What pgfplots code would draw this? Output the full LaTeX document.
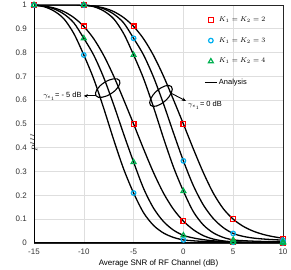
\documentclass[border=0pt]{standalone}
\usepackage{pgfplots}
\pgfplotsset{compat=1.18}
\usepackage{pgfplotstable}
\usepackage{fontspec}
\setmainfont{Liberation Sans}
\usetikzlibrary{shapes.geometric,arrows.meta}

\definecolor{mred}{RGB}{255,0,0}
\definecolor{mblue}{RGB}{0,176,240}
\definecolor{mgreen}{RGB}{0,176,80}
\definecolor{gridc}{RGB}{222,222,222}

% right group (gamma = 0 dB)
\pgfplotstableread{
x y
-15 1
-11 0.9997
-10 0.9986
-9 0.9953
-8 0.9876
-7 0.9725
-6 0.9472
-5 0.91
-4 0.858
-3 0.788
-2 0.7012
-1 0.6023
0 0.50
1 0.3953
2 0.296
3 0.2097
4 0.1445
5 0.100
6 0.0702
7 0.0500
8 0.0362
9 0.0267
10 0.0200
}\RR
\pgfplotstableread{
x y
-10 1
-9 0.995
-8 0.984
-7 0.962
-6 0.925
-5 0.86
-4 0.790
-3 0.697
-2 0.585
-1 0.463
0 0.345
1 0.241
2 0.160
3 0.103
4 0.0647
5 0.040
6 0.0279
7 0.0208
8 0.0168
9 0.0141
10 0.012
}\RB
\pgfplotstableread{
x y
-10 1
-9 0.993
-8 0.975
-7 0.942
-6 0.880
-5 0.79
-4 0.691
-3 0.571
-2 0.441
-1 0.3195
0 0.218
1 0.1315
2 0.0759
3 0.0427
4 0.0236
5 0.013
6 0.0098
7 0.0078
8 0.0065
9 0.0056
10 0.005
}\RG
% left group (gamma = -5 dB)
\pgfplotstableread{
x y
-15 0.9986
-14 0.9953
-13 0.9876
-12 0.9725
-11 0.9472
-10 0.91
-9 0.858
-8 0.788
-7 0.7012
-6 0.6023
-5 0.50
-4 0.3953
-3 0.296
-2 0.2097
-1 0.1419
0 0.092
1 0.0558
2 0.0310
3 0.0165
4 0.0089
5 0.0050
6 0.0034
7 0.0025
8 0.0020
9 0.0017
10 0.0015
}\LR
\pgfplotstableread{
x y
-15 1
-14 0.995
-13 0.984
-12 0.962
-11 0.925
-10 0.86
-9 0.789
-8 0.695
-7 0.581
-6 0.458
-5 0.34
-4 0.2294
-3 0.1466
-2 0.0903
-1 0.0542
0 0.032
1 0.0212
2 0.0140
3 0.0092
4 0.0061
5 0.004
6 0.0030
7 0.0022
8 0.0017
9 0.0013
10 0.001
}\LG
\pgfplotstableread{
x y
-15 1
-14 0.993
-13 0.975
-12 0.942
-11 0.880
-10 0.79
-9 0.689
-8 0.566
-7 0.434
-6 0.311
-5 0.21
-4 0.1272
-3 0.0740
-2 0.0420
-1 0.0235
0 0.013
1 0.0092
2 0.0067
3 0.0051
4 0.0040
5 0.003
6 0.0024
7 0.0019
8 0.0015
9 0.0012
10 0.001
}\LB

\begin{document}
\begin{tikzpicture}
\begin{axis}[
  scale only axis, width=249bp, height=238bp,
  xmin=-15, xmax=10, ymin=0, ymax=1,
  xtick={-15,-10,-5,0,5,10},
  xticklabels={-15,-10,-5,0,5,10},
  ytick={0,0.1,0.2,0.3,0.4,0.5,0.6,0.7,0.8,0.9,1},
  yticklabels={0,0.1,0.2,0.3,0.4,0.5,0.6,0.7,0.8,0.9,1},
  grid=major,
  major grid style={gridc, line width=0.6bp},
  major tick length=0pt,
  axis line style={black!85, line width=0.8bp},
  tick label style={font=\fontsize{8}{9}\selectfont, text=black!80},
  xticklabel style={anchor=center, yshift=-9bp},
  yticklabel style={anchor=east, inner sep=0pt, xshift=-7bp},
  xlabel={Average SNR of RF Channel (dB)},
  xlabel style={font=\fontsize{8}{9}\selectfont, at={(rel axis cs:0.5,0)}, anchor=center, yshift=-20bp},
  ylabel={$P^{III}$},
  ylabel style={font=\fontsize{8}{9}\selectfont, at={(rel axis cs:0,0.53)}, anchor=center, xshift=-26bp},
  clip=true,
  legend style={draw=none, fill=none, at={(rel axis cs:0.683,0.958)}, anchor=north west,
     font=\fontsize{7.5}{9}\selectfont, row sep=11.5bp, inner sep=0pt, nodes={inner sep=1.5bp}},
  legend cell align=left,
  every axis plot/.append style={line width=1.3bp},
]
\addlegendimage{only marks, mark=square, mark size=2.4bp, mred, line width=1.2bp}
\addlegendentry{$K_1=K_2=2$}
\addlegendimage{only marks, mark=o, mark size=2.3bp, mblue, line width=1.2bp}
\addlegendentry{$K_1=K_2=3$}
\addlegendimage{only marks, mark=triangle, mark size=2.8bp, mgreen, line width=1.2bp}
\addlegendentry{$K_1=K_2=4$}
\addlegendimage{black, line width=1.2bp, legend image code/.code={\draw[black, line width=1.2bp] (0.3cm-6bp,0cm) -- (0.3cm+6bp,0cm);}}
\addlegendentry{Analysis}

% analysis curves
\addplot[black, smooth, forget plot] table {\LR};
\addplot[black, smooth, forget plot] table {\LG};
\addplot[black, smooth, forget plot] table {\LB};
\addplot[black, smooth, forget plot] table {\RR};
\addplot[black, smooth, forget plot] table {\RB};
\addplot[black, smooth, forget plot] table {\RG};

% simulation markers K=2
\addplot[only marks, mark=square, mark size=2.4bp, mred, line width=1.2bp, forget plot] coordinates {
(-15,1) (-10,0.91) (-5,0.50) (0,0.092) (5,0.005) (10,0.0015)
(-10,1) (-5,0.91) (0,0.50) (5,0.10) (10,0.017)};
% K=3
\addplot[only marks, mark=o, mark size=2.3bp, mblue, line width=1.2bp, forget plot] coordinates {
(-15,1) (-10,0.79) (-5,0.21) (0,0.013) (5,0.003) (10,0.001)
(-10,1) (-5,0.86) (0,0.345) (5,0.040) (10,0.011)};
% K=4
\addplot[only marks, mark=triangle, mark size=2.8bp, mgreen, line width=1.2bp, forget plot] coordinates {
(-15,1) (-10,0.86) (-5,0.34) (0,0.032) (5,0.004) (10,0.001)
(-10,1) (-5,0.79) (0,0.218) (5,0.013) (10,0.005)};

% annotations
\node[draw=black, line width=1.1bp, ellipse, minimum width=28bp, minimum height=13bp, inner sep=0pt, rotate=33] at (axis cs:-7.6,0.651) {};
\node[draw=black, line width=1.1bp, ellipse, minimum width=28bp, minimum height=13bp, inner sep=0pt, rotate=42] at (axis cs:-2.25,0.618) {};
\draw[black, line width=0.9bp, -{Stealth[length=4bp,width=3.5bp]}] (axis cs:-8.75,0.618) -- (axis cs:-10.0,0.618);
\draw[black, line width=0.9bp, -{Stealth[length=4bp,width=3.5bp]}] (axis cs:-1.35,0.632) -- (axis cs:0.25,0.597);
\node[anchor=east, inner sep=0pt, font=\fontsize{7.5}{9}\selectfont] at (axis cs:-10.2,0.616) {$\gamma_{e_1}$= - 5 dB};
\node[anchor=west, inner sep=0pt, font=\fontsize{7.5}{9}\selectfont] at (axis cs:0.45,0.578) {$\gamma_{e_1}$= 0 dB};

% thick left and bottom axis lines
\draw[black, line width=1.6bp] (rel axis cs:0,1) -- (rel axis cs:0,0) -- (rel axis cs:1,0);
\coordinate (SW) at (rel axis cs:0,0);
\coordinate (NE) at (rel axis cs:1,1);
\end{axis}
\pgfresetboundingbox
\path[use as bounding box] ([shift={(-34bp,-27bp)}]SW) rectangle ([shift={(8bp,5bp)}]NE);
\end{tikzpicture}
\end{document}
